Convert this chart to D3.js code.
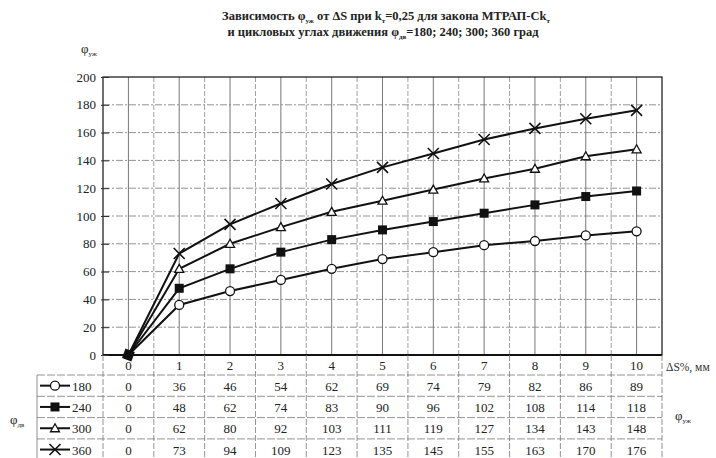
<!DOCTYPE html>
<html>
<head>
<meta charset="utf-8">
<script src="https://cdn.jsdelivr.net/npm/d3@7"></script>
<style>
  body { margin: 0; background: #fff; }
  svg { font-family: "Liberation Serif", "DejaVu Serif", serif; }
</style>
</head>
<body>
<svg id="chart" width="716" height="458"></svg>
<script>
// values
const dS = [0, 1, 2, 3, 4, 5, 6, 7, 8, 9, 10];
const angles = ["180", "240", "300", "360"];
const phi180 = [0, 36, 46, 54, 62, 69, 74, 79, 82, 86, 89];
const phi240 = [0, 48, 62, 74, 83, 90, 96, 102, 108, 114, 118];
const phi300 = [0, 62, 80, 92, 103, 111, 119, 127, 134, 143, 148];
const phi360 = [0, 73, 94, 109, 123, 135, 145, 155, 163, 170, 176];
const yTicks = [0, 20, 40, 60, 80, 100, 120, 140, 160, 180, 200];
const markers = ["circle", "square", "triangle", "cross"];

const series = angles.map((a, i) => ({
  name: a,
  values: [phi180, phi240, phi300, phi360][i],
  marker: markers[i]
}));

const svg = d3.select("#chart");

const x = d3.scaleLinear().domain([-0.5, 10.5]).range([103, 662]);
const y = d3.scaleLinear().domain([0, 200]).range([355, 77]);

// grid: half-step vertical lines, running down through the table
const halfSteps = d3.range(0, 10.01, 0.5);
svg.append("g").selectAll("line")
  .data(halfSteps)
  .join("line")
  .attr("x1", d => x(d)).attr("x2", d => x(d))
  .attr("y1", y(200)).attr("y2", y(0))
  .attr("stroke", d => Number.isInteger(d) ? "#555" : "#888")
  .attr("stroke-width", 0.8)
  .attr("stroke-dasharray", d => Number.isInteger(d) ? null : "5,2");

svg.append("g").selectAll("line")
  .data(yTicks.slice(1, -1))
  .join("line")
  .attr("x1", x(-0.5)).attr("x2", x(10.5))
  .attr("y1", d => y(d)).attr("y2", d => y(d))
  .attr("stroke", "#777")
  .attr("stroke-width", 0.8)
  .attr("stroke-dasharray", "7,2,2,2");

// plot frame
svg.append("rect")
  .attr("x", x(-0.5)).attr("y", y(200))
  .attr("width", x(10.5) - x(-0.5)).attr("height", y(0) - y(200))
  .attr("fill", "none").attr("stroke", "#111").attr("stroke-width", 1.2);
svg.append("line")
  .attr("x1", x(-0.5)).attr("x2", x(10.5))
  .attr("y1", y(0)).attr("y2", y(0))
  .attr("stroke", "#111").attr("stroke-width", 1.8);

// y axis
const yAxis = d3.axisLeft(y).tickValues(yTicks).tickSize(4).tickSizeOuter(0);
const ya = svg.append("g").attr("transform", `translate(${x(-0.5) + 2},0)`).call(yAxis);
ya.select(".domain").remove();
ya.selectAll(".tick line").attr("stroke", "#333").attr("x2", 4).attr("x1", -4);
ya.selectAll(".tick text")
  .attr("x", -9)
  .attr("font-family", "Liberation Serif")
  .attr("font-size", 13)
  .attr("fill", "#222");

// y label φ_уж
const yl = svg.append("text").attr("x", 81).attr("y", 53)
  .attr("font-size", 13).attr("fill", "#222");
yl.append("tspan").text("φ");
yl.append("tspan").attr("dy", 3).attr("font-size", 7).text("уж");

// title
const title = svg.append("g").attr("font-size", 12.5).attr("font-weight", "bold").attr("fill", "#222");
const t1 = title.append("text").attr("x", 386).attr("y", 20).attr("text-anchor", "middle");
t1.append("tspan").text("Зависимость φ");
t1.append("tspan").attr("dy", 3).attr("font-size", 7).text("уж");
t1.append("tspan").attr("dy", -3).text(" от ΔS  при k");
t1.append("tspan").attr("dy", 3).attr("font-size", 7).text("т");
t1.append("tspan").attr("dy", -3).text("=0,25  для закона МТРАП-Ck");
t1.append("tspan").attr("dy", 3).attr("font-size", 7).text("т");
const t2 = title.append("text").attr("x", 383).attr("y", 36).attr("text-anchor", "middle");
t2.append("tspan").text("и цикловых углах движения φ");
t2.append("tspan").attr("dy", 3).attr("font-size", 7).text("дв");
t2.append("tspan").attr("dy", -3).text("=180; 240; 300; 360 град");

// lines
const line = d3.line().x((d, i) => x(dS[i])).y(d => y(d));
svg.append("g").selectAll("path")
  .data(series)
  .join("path")
  .attr("d", d => line(d.values))
  .attr("fill", "none")
  .attr("stroke", "#111")
  .attr("stroke-width", 2);

function drawMarker(g, type, cx, cy) {
  if (type === "circle") {
    g.append("circle").attr("cx", cx).attr("cy", cy).attr("r", 4.5)
      .attr("fill", "#fff").attr("stroke", "#111").attr("stroke-width", 1.3);
  } else if (type === "square") {
    g.append("rect").attr("x", cx - 4.5).attr("y", cy - 4.5).attr("width", 9).attr("height", 9)
      .attr("fill", "#111");
  } else if (type === "triangle") {
    g.append("path").attr("d", `M${cx},${cy - 4.5}L${cx + 4.5},${cy + 3.5}L${cx - 4.5},${cy + 3.5}Z`)
      .attr("fill", "#fff").attr("stroke", "#111").attr("stroke-width", 1.3);
  } else {
    g.append("path").attr("d", `M${cx - 5.5},${cy - 5.5}L${cx + 5.5},${cy + 5.5}M${cx - 5.5},${cy + 5.5}L${cx + 5.5},${cy - 5.5}`)
      .attr("stroke", "#111").attr("stroke-width", 1.6);
  }
}

const mk = svg.append("g");
series.forEach(s => {
  s.values.forEach((v, i) => {
    if (i === 0) return;
    drawMarker(mk, s.marker, x(dS[i]), y(v));
  });
});
// shared origin point
mk.append("rect").attr("x", x(0) - 5).attr("y", y(0) - 5).attr("width", 10).attr("height", 10)
  .attr("fill", "#111").attr("transform", `rotate(20,${x(0)},${y(0)})`);

// data table under the chart
const rowH = 21.3;
const top0 = 375;
const tableLeft = 37;
const tbl = svg.append("g");

// x labels (header row)
tbl.selectAll("text.hx")
  .data(dS)
  .join("text")
  .attr("class", "hx")
  .attr("x", d => x(d)).attr("y", 370)
  .attr("text-anchor", "middle")
  .attr("font-size", 13).attr("fill", "#222")
  .text(d => d);

tbl.append("text").attr("x", 666).attr("y", 371)
  .attr("font-size", 11.5).attr("fill", "#333").text("ΔS%, мм");

// vertical lines through header and table
tbl.selectAll("line.v")
  .data(d3.range(-0.5, 10.51, 1))
  .join("line")
  .attr("class", "v")
  .attr("x1", d => x(d)).attr("x2", d => x(d))
  .attr("y1", y(0)).attr("y2", top0 + rowH * 4)
  .attr("stroke", "#777").attr("stroke-width", 0.8)
  .attr("stroke-dasharray", "6,2");
tbl.append("line")
  .attr("x1", tableLeft).attr("x2", tableLeft)
  .attr("y1", top0).attr("y2", top0 + rowH * 4)
  .attr("stroke", "#777").attr("stroke-width", 0.8);

// horizontal lines
tbl.selectAll("line.h")
  .data(d3.range(0, 5))
  .join("line")
  .attr("class", "h")
  .attr("x1", tableLeft).attr("x2", x(10.5))
  .attr("y1", i => top0 + i * rowH).attr("y2", i => top0 + i * rowH)
  .attr("stroke", "#777").attr("stroke-width", 0.8)
  .attr("stroke-dasharray", "8,2");

series.forEach((s, r) => {
  const cy = top0 + r * rowH + rowH / 2;
  // legend cell
  tbl.append("line").attr("x1", 40).attr("x2", 70).attr("y1", cy).attr("y2", cy)
    .attr("stroke", "#111").attr("stroke-width", 2);
  drawMarker(tbl, s.marker, 55, cy);
  tbl.append("text").attr("x", 72).attr("y", cy + 5)
    .attr("font-size", 13).attr("fill", "#222").text(s.name);
  // values
  tbl.selectAll(null)
    .data(s.values)
    .join("text")
    .attr("x", (d, i) => x(dS[i])).attr("y", cy + 5)
    .attr("text-anchor", "middle")
    .attr("font-size", 13).attr("fill", "#222")
    .text(d => d);
});

// row-group labels
const ld = svg.append("text").attr("x", 10).attr("y", 424).attr("font-size", 13).attr("fill", "#222");
ld.append("tspan").text("φ");
ld.append("tspan").attr("dy", 3).attr("font-size", 7).text("дв");
const lr = svg.append("text").attr("x", 675).attr("y", 420).attr("font-size", 13).attr("fill", "#222");
lr.append("tspan").text("φ");
lr.append("tspan").attr("dy", 3).attr("font-size", 7).text("уж");
</script>
</body>
</html>
